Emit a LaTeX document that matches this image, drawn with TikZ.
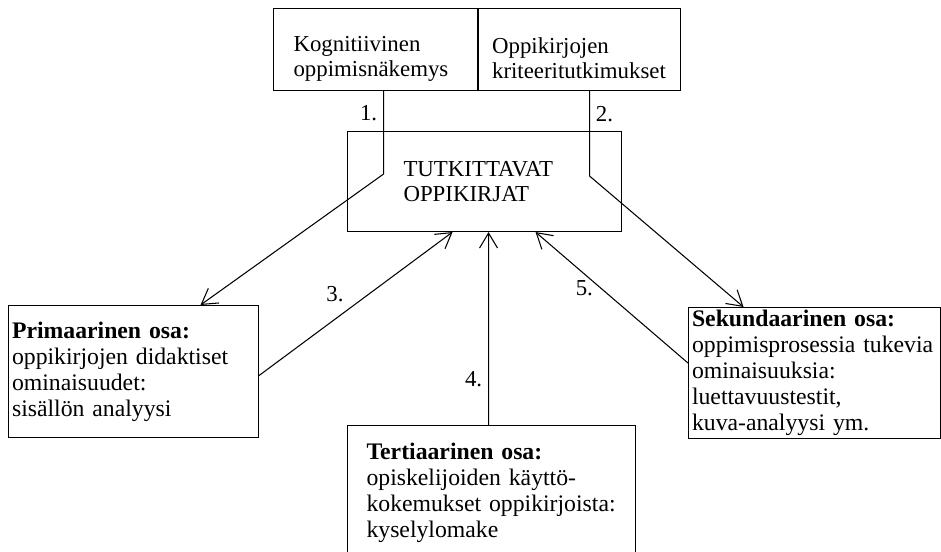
\documentclass[tikz,border=0pt]{standalone}
\usepackage{fontspec}
\setmainfont{Liberation Serif}
\usetikzlibrary{positioning, arrows.meta}

\begin{document}
\begin{tikzpicture}[
        box/.style={draw, line width=0.6pt, align=left, inner ysep=0pt, font=\fontsize{13}{14.2}\selectfont},
        low/.style={box, font=\fontsize{13.5}{14.8}\selectfont},
        arr/.style={-{Straight Barb[length=3mm, width=3.6mm]}, line width=0.6pt},
        lbl/.style={font=\fontsize{13}{15}\selectfont}
    ]
            \useasboundingbox (0,0) rectangle (18.82,-11.04);
            \clip (0,0) rectangle (18.82,-11.04);

            \node [box, anchor=north west, minimum height=1.64cm, text width=3.28cm, inner xsep=0.4cm] (kog) at (5.46,-0.16) {\rule{0pt}{19pt}Kognitiivinen\\oppimisnäkemys};
            \node [box, anchor=north west, minimum height=1.64cm, text width=3.5cm, inner xsep=0.27cm] (krit) at (kog.north east) {\rule{0pt}{19pt}Oppikirjojen\\kriteeritutkimukset};
            \node [box, anchor=north west, minimum height=2cm, text width=3.24cm, inner xsep=1.12cm] (tut) at (6.94,-2.62) {TUTKITTAVAT\\OPPIKIRJAT};
            \node [low, anchor=north west, minimum height=2.64cm, text width=4.86cm, inner xsep=0.07cm] (prim) at (0.16,-6.1) {\textbf{Primaarinen osa:}\\oppikirjojen didaktiset\\ominaisuudet:\\sisällön analyysi};
            \node [low, anchor=north west, minimum height=2.62cm, text width=4.9cm, inner xsep=0.07cm] (sek) at (13.76,-6.14) {\textbf{Sekundaarinen osa:}\\oppimisprosessia tukevia\\ominaisuuksia:\\luettavuustestit,\\kuva-analyysi ym.};
            \node [low, anchor=north west, minimum height=2.7cm, text width=5cm, inner xsep=0.38cm] (ter) at (6.94,-8.5) {\textbf{Tertiaarinen osa:}\\opiskelijoiden käyttö-\\kokemukset oppikirjoista:\\kyselylomake};

            \draw [arr] ([xshift=0.16cm]kog.south) -- ++(0,-1.66) node [lbl, left, pos=0.27] {1.} -- ([xshift=1.34cm]prim.north);
            \draw [arr] ([xshift=0.2cm]krit.south) -- ++(0,-1.7) node [lbl, right, pos=0.27] {2.} -- ([xshift=-1.42cm]sek.north);
            \draw [arr] ([yshift=-0.08cm]prim.east) -- ([xshift=-0.64cm]tut.south) node [lbl, above left, pos=0.47] {3.};
            \draw [arr] ([xshift=-0.06cm]ter.north) -- ([xshift=0.08cm]tut.south) node [lbl, left, pos=0.24] {4.};
            \draw [arr] ([yshift=0.2cm]sek.west) -- ([xshift=1.02cm]tut.south) node [lbl, below, pos=0.68] {5.};
        \end{tikzpicture}
\end{document}
